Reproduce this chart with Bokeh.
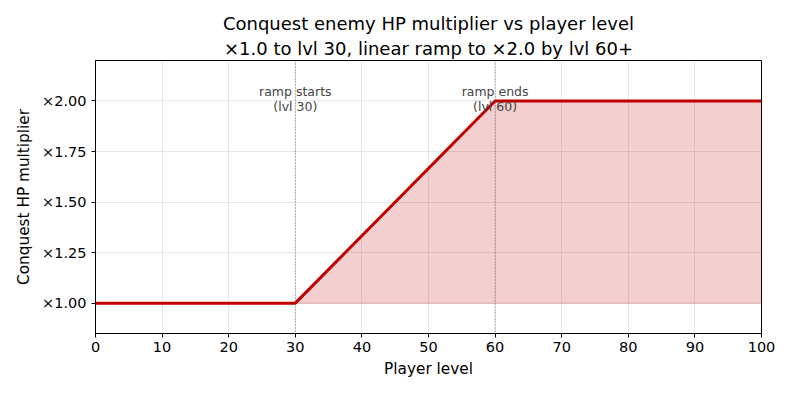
from bokeh.plotting import figure
from bokeh.models import (Title, FixedTicker, PrintfTickFormatter, Span, ColumnDataSource, Range1d)
from bokeh.core.properties import value
from bokeh.embed import file_html
from bokeh.resources import INLINE

# Data
levels = [0, 30, 60, 100]
multiplier = [1.0, 1.0, 2.0, 2.0]
baseline = [1.0, 1.0, 1.0, 1.0]
marker_levels = [30, 60]
label_line1 = ["ramp starts", "ramp ends"]
label_line2 = ["(lvl 30)", "(lvl 60)"]
x_ticks = [0, 10, 20, 30, 40, 50, 60, 70, 80, 90, 100]
y_ticks = [1.0, 1.25, 1.5, 1.75, 2.0]

FONT = "DejaVu Sans"
RED = "#c00000"

p = figure(width=792, height=396, output_backend="svg", toolbar_location=None,
           x_range=Range1d(0, 100), y_range=Range1d(0.85, 2.2),
           min_border_left=95, min_border_right=31, min_border_top=60, min_border_bottom=63)
p.title = None

# Titles (later-added goes further from plot)
p.add_layout(Title(text="×1.0 to lvl 30, linear ramp to ×2.0 by lvl 60+", align="center",
                   text_font=FONT, text_font_size="18px", text_font_style="normal",
                   text_color="#000000", standoff=4), "above")
p.add_layout(Title(text="Conquest enemy HP multiplier vs player level", align="center",
                   text_font=FONT, text_font_size="18px", text_font_style="normal",
                   text_color="#000000", standoff=0), "above")

src = ColumnDataSource(dict(x=levels, y=multiplier, b=baseline))
p.varea(x="x", y1="b", y2="y", source=src, fill_color=RED, fill_alpha=0.19)
p.line(x=[levels[1], levels[-1]], y=[baseline[1], baseline[-1]], line_color=RED, line_alpha=0.12, line_width=1.5)

for m in marker_levels:
    p.add_layout(Span(location=m, dimension="height", line_color="#555555",
                      line_dash="1 2", line_width=0.8))

p.line(x="x", y="y", source=src, line_color=RED, line_width=3)

p.text(x=marker_levels, y=[2.048] * 2, text=label_line1, text_align="center", text_baseline="middle",
       text_font=value(FONT), text_font_size="12.5px", text_color="#444444")
p.text(x=marker_levels, y=[1.975] * 2, text=label_line2, text_align="center", text_baseline="middle",
       text_font=value(FONT), text_font_size="12.5px", text_color="#444444")

# Axes styling
for ax in (p.xaxis[0], p.yaxis[0]):
    ax.axis_line_color = "black"
    ax.major_tick_line_color = "black"
    ax.major_tick_out = 4
    ax.major_tick_in = 0
    ax.minor_tick_line_color = None
    ax.major_label_text_font = FONT
    ax.major_label_text_font_size = "14.5px"
    ax.major_label_text_color = "black"
    ax.axis_label_text_font = FONT
    ax.axis_label_text_font_size = "15.3px"
    ax.axis_label_text_font_style = "normal"
    ax.axis_label_text_color = "black"

p.xaxis.ticker = FixedTicker(ticks=x_ticks)
p.yaxis.ticker = FixedTicker(ticks=y_ticks)
p.yaxis.formatter = PrintfTickFormatter(format="×%.2f")
p.xaxis.axis_label = "Player level"
p.yaxis.axis_label = "Conquest HP multiplier"
p.xaxis.major_label_standoff = 4
p.yaxis.major_label_standoff = 5
p.xaxis.axis_label_standoff = 5
p.yaxis.axis_label_standoff = 6

p.grid.grid_line_color = "#b0b0b0"
p.grid.grid_line_alpha = 0.3
p.outline_line_color = "black"
p.outline_line_width = 1
p.outline_line_alpha = 1
p.background_fill_color = "white"
p.border_fill_color = "white"

open("out.html", "w").write(file_html(p, INLINE))
